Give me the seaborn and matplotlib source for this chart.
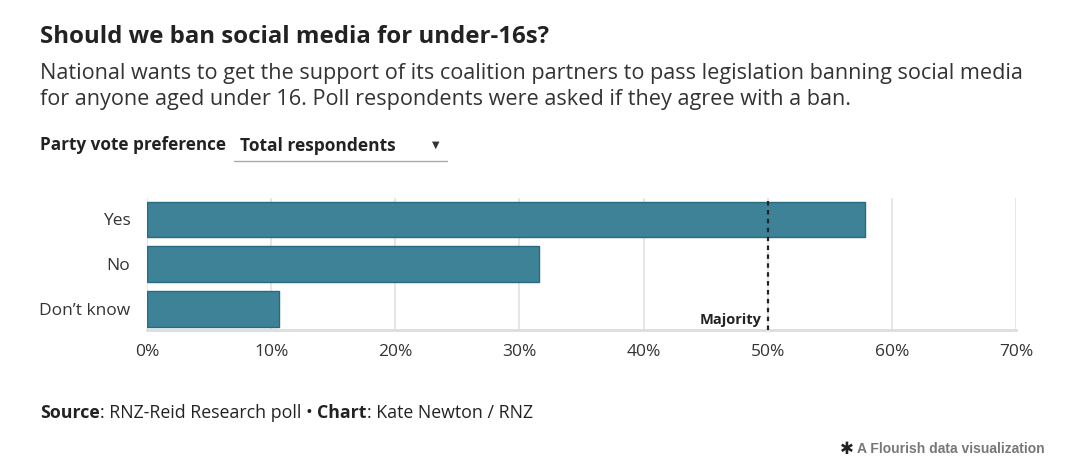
import matplotlib.pyplot as plt
import pandas as pd
import seaborn as sns

answers = ["Yes", "No", "Don\u2019t know"]
shares = [57.8, 31.6, 10.6]
xticks = [0, 10, 20, 30, 40, 50, 60, 70]
majority = 50

df = pd.DataFrame({"answer": answers, "share": shares})

sns.set_style("white")
plt.rcParams["font.family"] = ["Open Sans", "DejaVu Sans"]

fig = plt.figure(figsize=(10.71, 4.68), dpi=100)
ax = fig.add_axes([147 / 1071, 1 - 330 / 468, (1016 - 147) / 1071, 132 / 468])

sns.barplot(df, x="share", y="answer", orient="h", ax=ax, color="#3d8297",
            saturation=1, width=0.8, edgecolor="#286b80", linewidth=1, zorder=3)

ax.set_xlim(0, 70)
ax.set_ylim(2.47, -0.48)
ax.set_xticks(xticks)
ax.set_xticklabels([f"{t}%" for t in xticks], fontsize=12.5, color="#333333")
ax.tick_params(axis="x", length=0, pad=10)
ax.tick_params(axis="y", length=6, color="#dddddd", labelsize=12.5, labelcolor="#333333", pad=6)
ax.set_xlabel("")
ax.set_ylabel("")
ax.grid(axis="x", color="#e4e4e4", linewidth=1.3, zorder=0)
for s in ["top", "right", "left"]:
    ax.spines[s].set_visible(False)
ax.spines["bottom"].set_color("#dddddd")
ax.spines["bottom"].set_linewidth(2)

ax.axvline(majority, color="#222222", linestyle=(0, (2, 2)), linewidth=1.6, zorder=4)
ax.text(majority - 0.5, 2.24, "Majority", ha="right", va="center",
        fontsize=10.5, fontweight="bold", color="#222222", zorder=5)

fig.text(40 / 1071, 1 - 37 / 468, "Should we ban social media for under-16s?",
         fontsize=17.3, fontweight="bold", color="#222222", va="center")
fig.text(40 / 1071, 1 - 73 / 468,
         "National wants to get the support of its coalition partners to pass legislation banning social media",
         fontsize=15.6, color="#333333", va="center")
fig.text(40 / 1071, 1 - 100 / 468,
         "for anyone aged under 16. Poll respondents were asked if they agree with a ban.",
         fontsize=15.6, color="#333333", va="center")

fig.text(40 / 1071, 1 - 145 / 468, "Party vote preference", fontsize=12.3,
         fontweight="bold", color="#222222", va="center")
fig.text(240 / 1071, 1 - 146 / 468, "Total respondents", fontsize=12.5,
         fontweight="bold", color="#222222", va="center")
fig.text(436 / 1071, 1 - 145 / 468, "\u25bc", fontsize=7, color="#333333",
         ha="center", va="center", family="DejaVu Sans")
fig.add_artist(plt.Line2D([234 / 1071, 447 / 1071], [1 - 161 / 468, 1 - 161 / 468],
                          color="#aaaaaa", linewidth=1))

# footer with mixed weights
fig.canvas.draw()
renderer = fig.canvas.get_renderer()
parts = [("Source", "bold"), (": RNZ-Reid Research poll \u2022 ", "normal"),
         ("Chart", "bold"), (": Kate Newton / RNZ", "normal")]
x = 40
for txt, w in parts:
    t = fig.text(x / 1071, 1 - 413 / 468, txt, fontsize=12.8, fontweight=w,
                 color="#222222", va="center")
    bb = t.get_window_extent(renderer)
    x += bb.width

fig.text(1045 / 1071, 1 - 449 / 468, "A Flourish data visualization", fontsize=10,
         fontweight="bold", color="#777777", ha="right", va="center",
         family=["Liberation Sans", "DejaVu Sans"])
fig.text(847 / 1071, 1 - 449 / 468, "\u2731", fontsize=12, fontweight="bold",
         color="#222222", ha="center", va="center", family="DejaVu Sans")

fig.savefig("out.png", dpi=100, facecolor="white")
